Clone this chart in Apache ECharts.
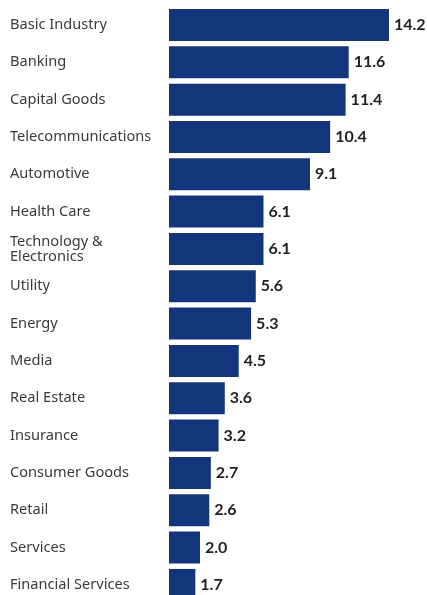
<!DOCTYPE html>
<html><head><meta charset="utf-8">
<script src="https://cdn.jsdelivr.net/npm/echarts@6/dist/echarts.min.js"></script>
<style>html,body{margin:0;padding:0;background:#fff;overflow:hidden;}#c{width:427px;height:620px;}</style>
</head><body><div id="c"></div>
<script>
const categories = ["Basic Industry","Banking","Capital Goods","Telecommunications","Automotive","Health Care","Technology &\nElectronics","Utility","Energy","Media","Real Estate","Insurance","Consumer Goods","Retail","Services","Financial Services"];
const values = [14.2,11.6,11.4,10.4,9.1,6.1,6.1,5.6,5.3,4.5,3.6,3.2,2.7,2.6,2.0,1.7];

const chart = echarts.init(document.getElementById('c'), null, {renderer:'canvas'});
chart.setOption({
  animation:false,
  backgroundColor:'#fff',
  grid:{left:169, top:6.3, height:597.3, width:220, containLabel:false},
  xAxis:{type:'value', min:0, max:14.2, show:false},
  yAxis:{type:'category', data:categories, inverse:true,
    axisLine:{show:false}, axisTick:{show:false},
    axisLabel:{align:'left', margin:159, color:'#3a3a3a', fontSize:14.6, fontFamily:'Noto Sans', lineHeight:15, padding:[0,0,3,0]}},
  series:[{type:'bar', data:values, barWidth:32, itemStyle:{color:'#13357b'},
    label:{show:true, position:'right', distance:5, color:'#231f20', fontWeight:'bold', fontSize:16, fontFamily:'Lato',
      formatter:p=>p.value.toFixed(1)}}]
});
</script></body></html>
